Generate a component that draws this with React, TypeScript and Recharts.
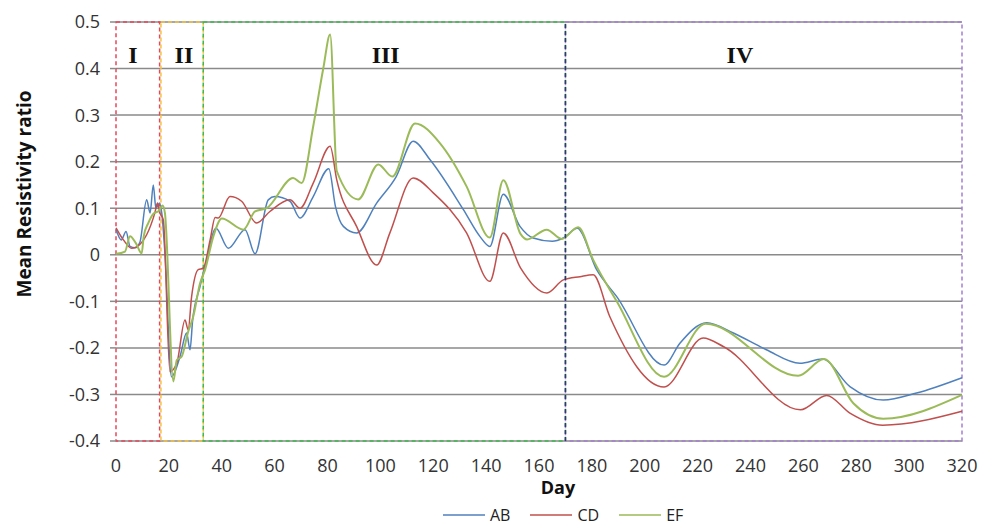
import React from 'react';
import { LineChart, Line, XAxis, YAxis, CartesianGrid, Legend, ReferenceArea, ReferenceLine, ReferenceDot } from 'recharts';

const abData = [
  [0, 0.055], [2, 0.032], [3.8, 0.05], [5.3, 0.018], [7.2, 0.015], [9, 0.026], [11.6, 0.118], [12.9, 0.09],
  [14.1, 0.15], [15.1, 0.1], [16.4, 0.11], [17.3, 0.09], [18.5, 0.004], [21, -0.262], [24.2, -0.219],
  [26.7, -0.168], [28, -0.204], [29, -0.14], [31.8, -0.068], [34.3, -0.01], [37.8, 0.057], [42.5, 0.014],
  [48.8, 0.054], [52.6, 0.002], [57.6, 0.118], [60.1, 0.125], [65.8, 0.115], [69.6, 0.079], [74.6, 0.125],
  [80.5, 0.185], [83, 0.104], [86, 0.061], [91, 0.047], [98.6, 0.111], [106, 0.168], [112.4, 0.244],
  [118.8, 0.204], [131.4, 0.097], [137.7, 0.039], [141.4, 0.018], [146.5, 0.13], [152.8, 0.061],
  [157.8, 0.036], [165, 0.029], [169.2, 0.036], [174.5, 0.057], [181.8, -0.032], [189.4, -0.09],
  [207.3, -0.237], [213.3, -0.19], [223.4, -0.146], [233.5, -0.168], [246, -0.204], [258.7, -0.233],
  [267.2, -0.224], [277.6, -0.283], [290.2, -0.312], [302.8, -0.297], [320, -0.264],
];

const cdData = [
  [0, 0.058], [2.8, 0.032], [5.9, 0.014], [9, 0.022], [11.6, 0.043], [14.7, 0.09], [15.7, 0.111],
  [16.6, 0.09], [17.9, 0.075], [20.4, -0.251], [23, -0.233], [26.1, -0.14], [27.3, -0.161], [28.6, -0.09],
  [31.1, -0.032], [33, -0.029], [35.6, 0.032], [37.5, 0.08], [38.7, 0.079], [43.1, 0.125], [47.5, 0.115],
  [53.2, 0.068], [58.2, 0.093], [65.8, 0.118], [69.6, 0.1], [74.6, 0.154], [81, 0.233], [83.5, 0.161],
  [91, 0.061], [98.6, -0.022], [103.6, 0.047], [112.4, 0.165], [120, 0.133], [132.6, 0.047],
  [141.4, -0.057], [146.5, 0.047], [153, -0.028], [163, -0.082], [169.2, -0.054], [175.5, -0.047],
  [180.5, -0.043], [186.8, -0.133], [207.3, -0.284], [222.1, -0.179], [229.7, -0.197], [258.9, -0.333],
  [268.8, -0.302], [277.6, -0.34], [290, -0.366], [320, -0.336],
];

const efData = [
  [0, 0.002], [3.4, 0.007], [5.3, 0.04], [7.5, 0.025], [9.7, 0.003], [10.5, 0.04], [12.2, 0.068],
  [14.1, 0.088], [16.3, 0.095], [17.6, 0.106], [18.5, 0.09], [21.7, -0.272], [23, -0.226], [24.8, -0.219],
  [27.3, -0.165], [29.2, -0.133], [31.8, -0.061], [33.7, -0.032], [36.8, 0.039], [40, 0.078], [48.2, 0.054],
  [52.6, 0.093], [57, 0.1], [67, 0.165], [70.2, 0.154], [74.6, 0.276], [78.4, 0.4], [81, 0.473],
  [83.5, 0.18], [91.6, 0.119], [99.2, 0.194], [104.5, 0.168], [113.1, 0.282], [122.5, 0.24],
  [132.6, 0.147], [141.4, 0.037], [146.5, 0.16], [153, 0.045], [155.5, 0.033], [162.9, 0.054],
  [168.6, 0.034], [174.8, 0.059], [180.5, -0.011], [189.4, -0.1], [207.3, -0.262], [223, -0.148],
  [258, -0.26], [267.8, -0.224], [278.9, -0.319], [290.2, -0.352], [320, -0.301],
];

const xTicks = [0, 20, 40, 60, 80, 100, 120, 140, 160, 180, 200, 220, 240, 260, 280, 300, 320];
const yTicks = [-0.4, -0.3, -0.2, -0.1, 0, 0.1, 0.2, 0.3, 0.4, 0.5];

const regions = [
  { name: 'I', x1: 0, x2: 16.5, color: '#E8475A', labelX: 6.4 },
  { name: 'II', x1: 17, x2: 33, color: '#F6C23E', labelX: 25.7 },
  { name: 'III', x1: 33, x2: 170, color: '#3DBA4E', labelX: 102 },
  { name: 'IV', x1: 170, x2: 320, color: '#A47FD2', labelX: 236 },
];
const boundaryDay = 170;
const labelY = 0.43;

const series = [
  { key: 'AB', data: abData, color: '#4F81BD' },
  { key: 'CD', data: cdData, color: '#C0504D' },
  { key: 'EF', data: efData, color: '#9BBB59' },
];

const toRows = (arr: number[][]) => arr.map(([day, v]) => ({ day, v }));

const FONT = '"Open Sans", "DejaVu Sans", sans-serif';

const fmtY = (v: number) => (Math.abs(v) < 1e-9 ? '0' : v.toFixed(1));

const LegendContent = () => (
  <div style={{ display: 'flex', alignItems: 'center', paddingLeft: 443, fontFamily: FONT, fontSize: 16, color: '#222', height: 30 }}>
    {series.map((s) => (
      <div key={s.key} style={{ display: 'flex', alignItems: 'center', marginRight: 20 }}>
        <svg width={42} height={10}>
          <line x1={0} y1={5} x2={42} y2={5} stroke={s.color} strokeWidth={1.5} />
        </svg>
        <span style={{ marginLeft: 5 }}>{s.key}</span>
      </div>
    ))}
  </div>
);

export default function App() {
  return (
    <div style={{ position: 'absolute', left: 0, top: 0, background: '#fff' }}>
      <LineChart width={984} height={530} margin={{ top: 22, right: 22, bottom: 0, left: 0 }}>
        <CartesianGrid vertical={false} stroke="#8a8a8a" strokeWidth={1.5} />
        <XAxis
          type="number"
          dataKey="day"
          domain={[0, 320]}
          ticks={xTicks}
          allowDuplicatedCategory={false}
          axisLine={false}
          tickLine={false}
          tickSize={0}
          tickMargin={18}
          height={59}
          tick={{ fill: '#333', fontSize: 18, fontFamily: FONT }}
          label={(props: any) => {
            const vb = props.viewBox;
            return (
              <text x={vb.x + vb.width / 2 + 19} y={494} textAnchor="middle" fontFamily={FONT} fontWeight="bold" fontSize={18} fill="#111">
                Day
              </text>
            );
          }}
        />
        <YAxis
          type="number"
          domain={[-0.4, 0.5]}
          ticks={yTicks}
          width={116}
          axisLine={false}
          tickLine={{ stroke: '#8a8a8a', strokeWidth: 1.5 }}
          tickSize={6}
          tickMargin={10}
          tickFormatter={fmtY}
          tick={{ fill: '#333', fontSize: 18, fontFamily: FONT }}
          label={() => (
            <text x={31} y={194} transform="rotate(-90 31 194)" textAnchor="middle" fontFamily={FONT} fontWeight="bold" fontSize={19} fill="#111">
              Mean Resistivity ratio
            </text>
          )}
        />
        {series.map((s) => (
          <Line
            key={s.key}
            name={s.key}
            data={toRows(s.data)}
            dataKey="v"
            type="monotone"
            stroke={s.color}
            strokeWidth={s.key === 'EF' ? 2 : 1.5}
            dot={false}
            activeDot={false}
            isAnimationActive={false}
          />
        ))}
        {regions.map((r) => (
          <ReferenceArea
            key={r.name}
            x1={r.x1}
            x2={r.x2}
            y1={-0.4}
            y2={0.5}
            fill="none"
            fillOpacity={0}
            stroke={r.color}
            strokeWidth={1.5}
            strokeDasharray="4 3"
          />
        ))}
        <ReferenceLine x={boundaryDay} stroke="#2E3A6E" strokeWidth={1.5} strokeDasharray="4 3" />
        {regions.map((r) => (
          <ReferenceDot
            key={'lbl' + r.name}
            x={r.labelX}
            y={labelY}
            r={0}
            fill="none"
            stroke="none"
            label={{ value: r.name, position: 'center', fontFamily: '"Liberation Serif", "DejaVu Serif", serif', fontWeight: 'bold', fontSize: 24, fill: '#111' }}
          />
        ))}
        <Legend verticalAlign="bottom" content={<LegendContent />} wrapperStyle={{ left: 0, width: 984, height: 30, bottom: 0 }} />
      </LineChart>
    </div>
  );
}
